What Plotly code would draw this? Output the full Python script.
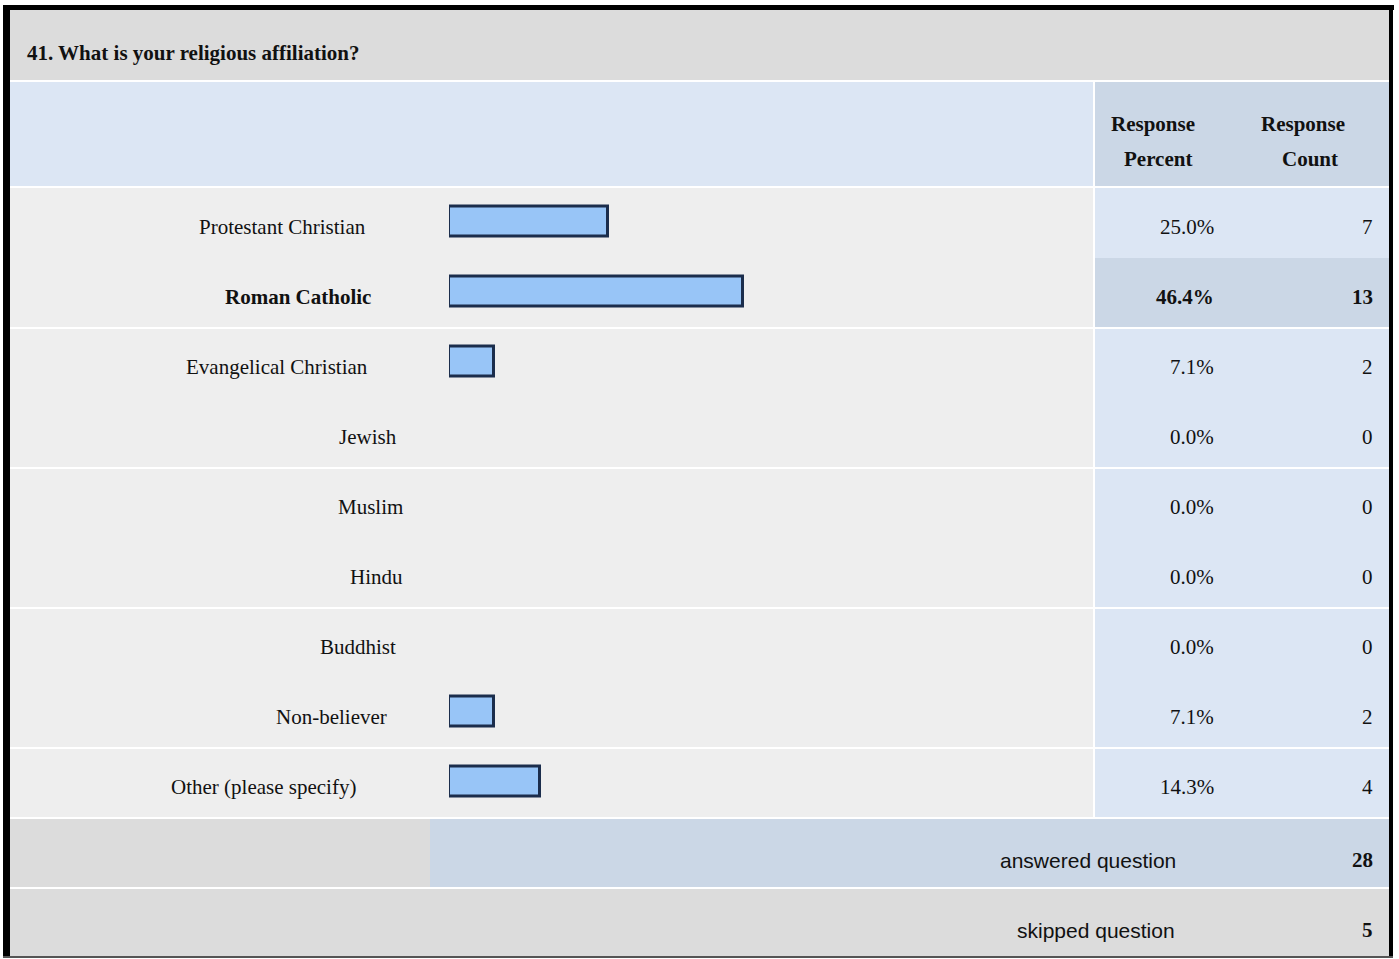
import plotly.graph_objects as go

# ---- data ----
question = "41. What is your religious affiliation?"
categories = ["Protestant Christian", "Roman Catholic", "Evangelical Christian", "Jewish",
              "Muslim", "Hindu", "Buddhist", "Non-believer", "Other (please specify)"]
percents = [25.0, 46.4, 7.1, 0.0, 0.0, 0.0, 0.0, 7.1, 14.3]
counts = [7, 13, 2, 0, 0, 0, 0, 2, 4]
answered = 28
skipped = 5

# ---- layout constants (pixels) ----
W, H = 1399, 959
SERIF = "Liberation Serif, Times New Roman, serif"
SANS = "Liberation Sans, Arial, sans-serif"
FS = 21
label_right_px = [368, 373, 370, 399, 405, 405, 398, 389, 358]  # irregular label placement
ROW_TOP, ROW_H = 188, 70
n = len(categories)
hi = counts.index(max(counts))


def px(x):
    return x / W


def py(y):
    return 1 - y / H


fig = go.Figure()
fig.add_trace(go.Bar(
    y=categories, x=percents, orientation="h", width=0.42,
    marker=dict(color="#98c5f7",
                line=dict(color="#1b2d4c", width=[3 if p > 0 else 0 for p in percents])),
    hoverinfo="skip", showlegend=False,
))

shapes = []


def rect(x0, y0, x1, y1, color):
    shapes.append(dict(type="rect", xref="paper", yref="paper", x0=px(x0), x1=px(x1),
                       y0=py(y1), y1=py(y0), fillcolor=color, line=dict(width=0), layer="below"))


def hline(y, x0, x1, color="white", w=2):
    shapes.append(dict(type="line", xref="paper", yref="paper", x0=px(x0), x1=px(x1),
                       y0=py(y), y1=py(y), line=dict(color=color, width=w), layer="below"))


LEFT, RIGHT, SPLIT = 10, 1390, 1094
data_bottom = ROW_TOP + ROW_H * n
# title row
rect(LEFT, 10, RIGHT, 81, "#dcdcdc")
# header
rect(LEFT, 81, SPLIT, 187, "#dce6f4")
rect(SPLIT, 81, RIGHT, 187, "#cbd7e6")
# data rows
rect(LEFT, 187, SPLIT, data_bottom, "#eeeeee")
for i in range(n):
    rect(SPLIT, ROW_TOP + ROW_H * i, RIGHT, ROW_TOP + ROW_H * (i + 1),
         "#cbd7e6" if i == hi else "#dce6f4")
# answered / skipped
rect(LEFT, data_bottom, 430, data_bottom + 70, "#dcdcdc")
rect(430, data_bottom, RIGHT, data_bottom + 70, "#cbd7e6")
rect(LEFT, data_bottom + 70, RIGHT, 957, "#dcdcdc")
# separators
hline(81, LEFT, RIGHT)
hline(187, LEFT, RIGHT)
for i in range(2, n, 2):
    hline(ROW_TOP + ROW_H * i, LEFT, RIGHT)
hline(data_bottom, LEFT, RIGHT)
hline(data_bottom + 70, LEFT, RIGHT)
shapes.append(dict(type="line", xref="paper", yref="paper", x0=px(SPLIT), x1=px(SPLIT),
                   y0=py(data_bottom), y1=py(81), line=dict(color="white", width=2), layer="below"))
# outer border
shapes.append(dict(type="line", xref="paper", yref="paper", x0=px(6.5), x1=px(6.5),
                   y0=py(958), y1=py(5), line=dict(color="black", width=7), layer="above"))
shapes.append(dict(type="line", xref="paper", yref="paper", x0=px(3), x1=px(1394),
                   y0=py(7.5), y1=py(7.5), line=dict(color="black", width=5), layer="above"))
shapes.append(dict(type="line", xref="paper", yref="paper", x0=px(1391), x1=px(1391),
                   y0=py(958), y1=py(5), line=dict(color="black", width=4), layer="above"))
shapes.append(dict(type="line", xref="paper", yref="paper", x0=px(3), x1=px(1393),
                   y0=py(957), y1=py(957), line=dict(color="#555555", width=2), layer="above"))

ann = []


def text(x, y, s, size=FS, bold=False, font=SERIF, xanchor="center", yref="paper", yshift=0):
    ann.append(dict(x=x, y=y, xref="paper", yref=yref, text=f"<b>{s}</b>" if bold else s,
                    showarrow=False, xanchor=xanchor, yanchor="middle", yshift=yshift,
                    font=dict(family=font, size=size, color="#111111")))


text(px(25), py(53), question, bold=True, xanchor="left")
text(px(1153), py(124), "Response", bold=True)
text(px(1158), py(159), "Percent", bold=True)
text(px(1303), py(124), "Response", bold=True)
text(px(1310), py(159), "Count", bold=True)

for i, (c, p, k) in enumerate(zip(categories, percents, counts)):
    b = i == hi
    text(px(label_right_px[i]), c, c, bold=b, xanchor="right", yref="y", yshift=-5)
    text(px(1216), c, f"{p:.1f}%", bold=b, xanchor="right", yref="y", yshift=-5)
    text(px(1375), c, str(k), bold=b, xanchor="right", yref="y", yshift=-5)

text(px(1088), py(data_bottom + 42), "answered question", font=SANS)
text(px(1375), py(data_bottom + 42), str(answered), bold=True, xanchor="right")
text(px(1096), py(data_bottom + 112), "skipped question", font=SANS)
text(px(1375), py(data_bottom + 112), str(skipped), bold=True, xanchor="right")

fig.update_layout(
    width=W, height=H, margin=dict(l=0, r=0, t=0, b=0),
    paper_bgcolor="white", plot_bgcolor="rgba(0,0,0,0)",
    shapes=shapes, annotations=ann, bargap=0,
    xaxis=dict(domain=[px(449), px(1083)], range=[0, 100], visible=False, fixedrange=True),
    yaxis=dict(domain=[py(data_bottom - 1.5), py(ROW_TOP - 1.5)], type="category",
               range=[n - 0.5, -0.5], visible=False, fixedrange=True),
)

fig.write_html("out.html", config={"displayModeBar": False},
               post_script="document.body.style.margin='0';document.body.style.overflow='hidden';")
